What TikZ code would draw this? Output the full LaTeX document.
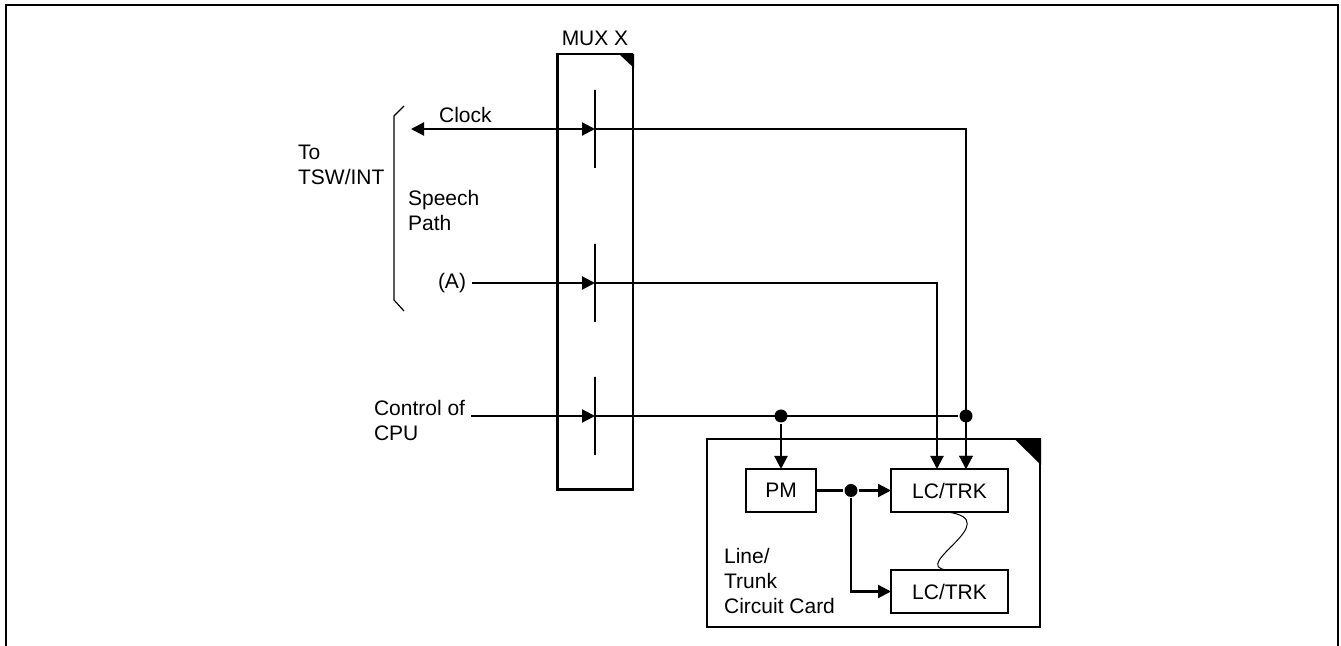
\documentclass[tikz,border=0pt]{standalone}
\usepackage{fontspec}
\setmainfont{Liberation Sans}
\usetikzlibrary{arrows.meta,positioning}

\begin{document}
\begin{tikzpicture}[x=0.5pt, y=-0.5pt, >={Triangle[length=6.5pt,width=6.5pt]}, line width=1.1pt,
    font=\fontsize{10.5}{12.5}\selectfont,
    box/.style={rectangle, draw, line width=0.8pt, inner sep=0pt, outer sep=0pt, minimum height=21.5pt},
    lbl/.style={align=left, inner sep=0pt, anchor=west},
    feed/.style={lbl, outer sep=3pt},
    bar/.style={rectangle, draw, inner sep=0pt, outer sep=0pt, minimum width=0pt, minimum height=39pt},
    dot/.style={circle, fill, inner sep=0pt, minimum size=6.5pt}]
    \useasboundingbox (0,0) rectangle (1341,646);
    \draw (6,646) -- (6,5) -- (1338,5) -- (1338,646);

    \draw (633,54) -- (557.5,54);
    \draw (633,54) -- (633,490);
    \draw[line width=1.5pt] (557.5,53) -- (557.5,490) -- (634,490);
    \fill (619,54) -- (634,54) -- (634,68) -- cycle;
    \node[inner sep=0pt] (muxname) at (595,38) {MUX X};

    \node[bar] (barclk) at (595,129) {};
    \node[bar] (barsp) at (595,283) {};
    \node[bar] (barctl) at (595,416) {};

    \node[lbl] (clk) at (438,115) {Clock};
    \node[lbl] (tsw) at (297,165) {To\\TSW/INT};
    \node[lbl] (speech) at (407,210) {Speech\\Path};
    \node[feed] (lbla) at (432,283) {(A)};
    \node[feed] (ctl) at (368,420) {Control of\\CPU};
    \coordinate (clkend) at (411,129);

    \draw[line width=0.6pt] (404,106) -- (394,116) -- (394,300) -- (404,311);

    \draw[line width=1.3pt] (707,627) -- (707,439) -- (1040,439) -- (1040,627) -- cycle;
    \fill (1014,438.5) -- (1041,438.5) -- (1041,465) -- cycle;

    \node[box, minimum width=35pt] (pm) at (781,490.5) {PM};
    \node[box, minimum width=58.5pt, right=37.5pt of pm] (lca) {LC/TRK};
    \node[box, minimum width=58.5pt, below=29pt of lca] (lcb) {LC/TRK};
    \node[lbl] (card) at (723,581) {Line/\\Trunk\\Circuit Card};

    \node[dot] (dotpm) at (pm.north |- barctl) {};
    \node[dot] (dotlc) at ([xshift=8.25pt]lca.north |- barctl) {};
    \node[dot] (dotsw) at (851,490.5) {};

    \draw[<->] (clkend) -- (barclk);
    \draw[->] (lbla) -- (barsp);
    \draw[->] (ctl.east |- barctl) -- (barctl);
    \draw[->] (barclk) -| ([xshift=8.25pt]lca.north);
    \draw[->] (barsp) -| ([xshift=-6.25pt]lca.north);
    \draw (barctl) -- (dotlc);
    \draw[->] (dotlc) -- ([xshift=8.25pt]lca.north);
    \draw[->] (dotpm) -- (pm);
    \draw (pm) -- (dotsw);
    \draw[->] (dotsw) -- (lca);
    \draw[->] (dotsw) |- (lcb);
    \draw[line width=0.5pt] ([xshift=-1.25pt]lca.south) .. controls (1008,520) and (908,566) .. ([xshift=-1.25pt]lcb.north);
\end{tikzpicture}
\end{document}
